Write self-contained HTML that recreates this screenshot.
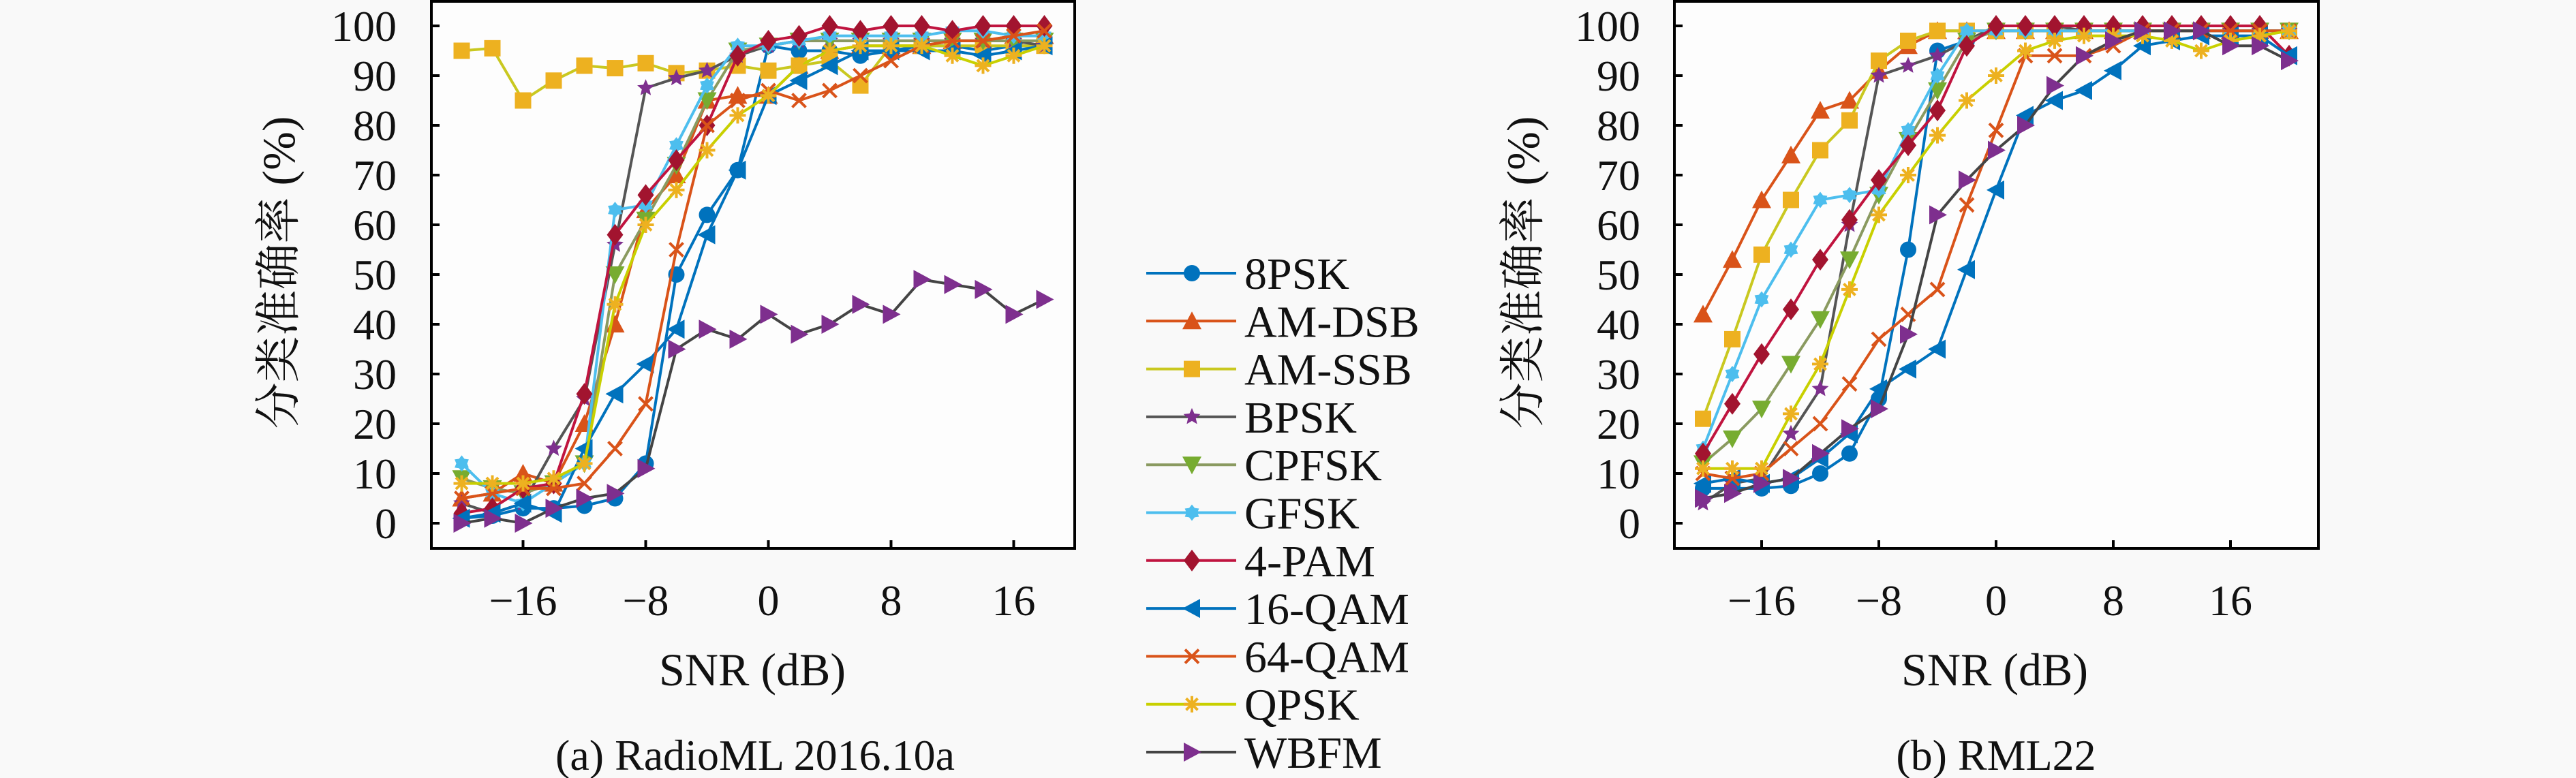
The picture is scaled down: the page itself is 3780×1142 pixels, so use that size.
<!DOCTYPE html>
<html><head><meta charset="utf-8"><style>
html,body{margin:0;padding:0;background:#f9f9f9;}
svg{display:block;}
</style></head><body>
<svg id="s" width="3780" height="1142" viewBox="0 0 3780 1142" xmlns="http://www.w3.org/2000/svg" font-family="'Liberation Serif', 'Noto Serif CJK SC', 'Noto Sans CJK SC', serif"></svg>
<script>
const S=document.getElementById('s');let h='';
const FF=`font-family="Liberation Serif, Noto Serif CJK SC, Noto Sans CJK SC, serif" fill="#111"`;
const series=[
['8PSK','#0072BD','#0072BD','o'],
['AM-DSB','#D95319','#D95319','^'],
['AM-SSB','#EDB120','#c9c820','s'],
['BPSK','#7E2F8E','#555555','*'],
['CPFSK','#77AC30','#8a9a60','v'],
['GFSK','#4DBEEE','#4DBEEE','h'],
['4-PAM','#A2142F','#C0143F','d'],
['16-QAM','#0072BD','#0072BD','<'],
['64-QAM','#D95319','#D95319','x'],
['QPSK','#EDB120','#c8d000','a'],
['WBFM','#7E2F8E','#444444','>']];
const L=[
[1,1.5,3,3,3.5,5,12,50,62,71,96,95,95,94,95,96,96,95,96,96],
[5,6,10,8,20,40,63,70,85,86,86,92,95,96,96,96,97,97,98,98],
[95,95.5,85,89,92,91.5,92.5,90.5,91,92,91,92,93,88,96,96,96,96,96,96],
[4,2,4,15,25,56,87.5,89.5,91,94,96,97,97,97,97,97,97,97,97,96],
[9,7,6,8,12,50,61,72,85,95,96,97,97,97,97,97,97,97,97,97],
[12,6,4,8,12,63,64,76,88,96,96,97,98,98,98,98,99,99,98,98],
[2,3,7,8,26,58,66,73,80,94,97,98,100,99,100,100,99,100,100,100],
[1,2,4,2,15,26,32,39,58,71,86,89,92,95,95,95,95,94,95,96],
[5,6,7,7,8,15,24,55,80,85,87,85,87,90,93,96,97,97,98,99],
[8,8,8,9,12,44,60,67,75,82,86,92,95,96,96,96,94,92,94,96],
[0,1,0,3,5,6,11,35,39,37,42,38,40,44,42,49,48,47,42,45]];
const R=[
[7,7,7,7.5,10,14,25,55,95,97,99,99,99,99,99,99,99,99,99,99,99],
[42,53,65,74,83,85,91,96,99,99,99,99,99,99,99,99,99,99,99,99,99],
[21,37,54,65,75,81,93,97,99,99,99,99,99,99,99,99,99,99,99,99,99],
[4,8,9,18,27,60,90,92,94,97,100,100,100,99,99,99,99,99,99,99,99],
[12,17,23,32,41,53,66,77,87,97,99,99,99,99,99,99,99,99,99,99,99],
[15,30,45,55,65,66,67,79,90,99,99,99,99,99,99,99,99,99,99,99,99],
[14,24,34,43,53,61,69,76,83,96,100,100,100,100,100,100,100,100,100,100,94],
[8,9,8,9,13,18,27,31,35,51,67,82,85,87,91,96,97,98,98,98,94],
[10,9,10,15,20,28,37,42,47,64,79,94,94,94,96,99,99,99,99,99,99],
[11,11,11,22,32,47,62,70,78,85,90,95,97,98,98,98,97,95,97,98,99],
[5,6,8,9,14,19,23,38,62,69,75,80,88,94,97,99,99,99,96,96,93]];
function mk(t,x,y,c){const r=12;
switch(t){
case'o':return `<circle cx="${x}" cy="${y}" r="${r}" fill="${c}"/>`;
case's':return `<rect x="${x-r}" y="${y-r}" width="${2*r}" height="${2*r}" fill="${c}"/>`;
case'^':return `<polygon points="${x},${y-r-2} ${x-r-2},${y+r} ${x+r+2},${y+r}" fill="${c}"/>`;
case'v':return `<polygon points="${x},${y+r+2} ${x-r-2},${y-r} ${x+r+2},${y-r}" fill="${c}"/>`;
case'<':return `<polygon points="${x-r-2},${y} ${x+r},${y-r-2} ${x+r},${y+r+2}" fill="${c}"/>`;
case'>':return `<polygon points="${x+r+2},${y} ${x-r},${y-r-2} ${x-r},${y+r+2}" fill="${c}"/>`;
case'd':return `<polygon points="${x},${y-r-4} ${x+r},${y} ${x},${y+r+4} ${x-r},${y}" fill="${c}"/>`;
case'*':{let p=[];for(let i=0;i<10;i++){const a=-Math.PI/2+i*Math.PI/5,rr=i%2?6:r+1;p.push((x+rr*Math.cos(a)).toFixed(1)+','+(y+rr*Math.sin(a)).toFixed(1));}return `<polygon points="${p.join(' ')}" fill="${c}"/>`;}
case'h':{let p=[];for(let i=0;i<12;i++){const a=-Math.PI/2+i*Math.PI/6,rr=i%2?8:r;p.push((x+rr*Math.cos(a)).toFixed(1)+','+(y+rr*Math.sin(a)).toFixed(1));}return `<polygon points="${p.join(' ')}" fill="${c}"/>`;}
case'x':return `<path d="M${x-10},${y-10}L${x+10},${y+10}M${x-10},${y+10}L${x+10},${y-10}" stroke="${c}" stroke-width="4"/>`;
case'a':{let d='';for(let i=0;i<4;i++){const a=i*Math.PI/4;d+=`M${(x-12*Math.cos(a)).toFixed(1)},${(y-12*Math.sin(a)).toFixed(1)}L${(x+12*Math.cos(a)).toFixed(1)},${(y+12*Math.sin(a)).toFixed(1)}`;}return `<path d="${d}" stroke="${c}" stroke-width="4"/>`;}
}}
const Y=v=>768-v*7.3;
function plot(bx0,bx1,x0,pxPer8,data,ylabX,tickR,snrX,sub,subX){
  const X=s=>x0+s*pxPer8/8;
  h+=`<rect x="${bx0}" y="2" width="${bx1-bx0}" height="803" fill="#fdfdfd" stroke="#000" stroke-width="4"/>`;
  for(let v=0;v<=100;v+=10){const y=Y(v);h+=`<line x1="${bx0}" y1="${y}" x2="${bx0+12}" y2="${y}" stroke="#000" stroke-width="4"/>`;
    h+=`<text ${FF} x="${tickR}" y="${y+22}" font-size="64" text-anchor="end">${v}</text>`;}
  for(const s of [-16,-8,0,8,16]){const x=X(s);h+=`<line x1="${x}" y1="805" x2="${x}" y2="793" stroke="#000" stroke-width="4"/>`;
    h+=`<text ${FF} x="${x}" y="903" font-size="64" text-anchor="middle">${s<0?'\u2212'+(-s):s}</text>`;}
  data.forEach((d,i)=>{const [n,mc,lc,m]=series[i];const pts=d.map((v,j)=>[X(-20+2*j),Y(v)]);
    h+=`<polyline points="${pts.map(p=>p[0].toFixed(1)+','+p[1].toFixed(1)).join(' ')}" fill="none" stroke="${lc}" stroke-width="4"/>`;
    pts.forEach(p=>h+=mk(m,p[0],p[1],mc));});
  h+=`<text ${FF} transform="translate(${ylabX},400) rotate(-90)" font-size="68" text-anchor="middle">分类准确率 (%)</text>`;
  h+=`<text ${FF} x="${snrX}" y="1006" font-size="68" text-anchor="middle">SNR (dB)</text>`;
  h+=`<text ${FF} x="${subX}" y="1130" font-size="64" text-anchor="middle">${sub}</text>`;
}
plot(633,1577,1127.5,180,L,432,582,1104,'(a) RadioML 2016.10a',1108);
plot(2457,3402,2929,172,R,2258,2407,2927,'(b) RML22',2929);
series.forEach((s,i)=>{const y=401+i*70.3;
  h+=`<line x1="1682" y1="${y}" x2="1814" y2="${y}" stroke="${s[2]}" stroke-width="4"/>`;
  h+=mk(s[3],1749,y,s[1]);
  h+=`<text ${FF} x="1826" y="${y+23}" font-size="66">${s[0]}</text>`;});
S.innerHTML=h;
</script>
</body></html>
